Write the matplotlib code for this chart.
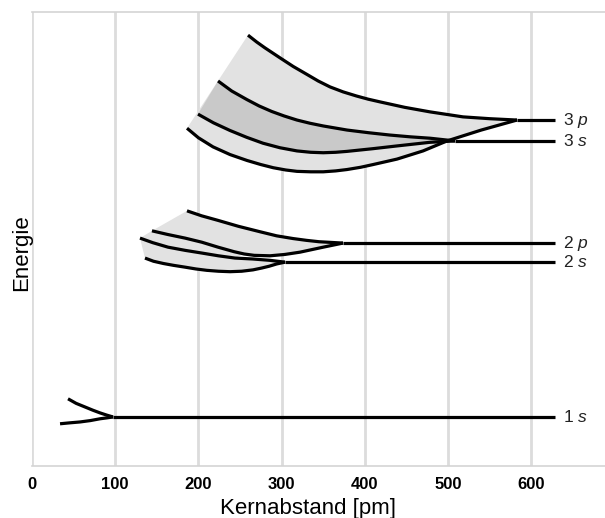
"""Energy levels of H2+ type molecule vs. internuclear distance (Kernabstand)."""
import matplotlib

matplotlib.use("Agg")
import matplotlib.pyplot as plt
import numpy as np

plt.rcParams["font.family"] = ["Liberation Sans", "DejaVu Sans"]
plt.rcParams["mathtext.fontset"] = "custom"
plt.rcParams["mathtext.it"] = "Liberation Sans:italic"
plt.rcParams["mathtext.rm"] = "Liberation Sans"

# level names and energies (arbitrary units, 0 = bottom of plot)
level_names = ["3p", "3s", "2p", "2s", "1s"]
level_energy = [76.2, 71.6, 49.1, 44.9, 10.8]
level_start = [582.9, 508.4, 373.8, 304.1, 97.4]  # pm, where the branches merge
level_end = 629.0

# n = 3 branches
x_3p_up = [259.6, 270.0, 280.0, 298.1, 314.0, 330.0, 344.0, 358.2, 374.0, 390.0, 404.0,
           418.3, 448.0, 478.4, 518.0, 550.0, 582.9]
y_3p_up = [94.9, 93.4, 92.1, 89.9, 88.0, 86.3, 84.8, 83.5, 82.4, 81.5, 80.8,
           80.2, 79.0, 78.0, 76.9, 76.5, 76.2]
x_3p_lo = [186.3, 200.0, 217.5, 238.0, 258.4, 275.0, 290.0, 305.0, 318.5, 335.0, 350.0,
           365.0, 378.6, 395.0, 410.0, 438.7, 470.0, 498.8, 540.0, 582.9]
y_3p_lo = [74.4, 72.3, 70.3, 68.6, 67.3, 66.4, 65.7, 65.2, 64.9, 64.8, 64.8,
           65.0, 65.3, 65.8, 66.4, 67.6, 69.4, 71.6, 74.0, 76.2]
x_3s_up = [223.6, 240.0, 258.4, 273.0, 288.0, 303.0, 318.5, 334.0, 350.0, 378.6, 405.0,
           430.0, 455.0, 478.4, 508.4]
y_3s_up = [84.8, 82.6, 80.7, 79.3, 78.1, 77.1, 76.2, 75.5, 74.9, 74.0, 73.4,
           72.9, 72.5, 72.2, 71.6]
x_3s_lo = [199.5, 218.0, 238.0, 258.0, 277.6, 298.0, 318.5, 335.0, 350.0, 365.0, 378.6,
           410.0, 438.7, 478.4, 508.4]
y_3s_lo = [77.5, 75.6, 73.9, 72.4, 71.1, 70.1, 69.4, 69.1, 69.0, 69.1, 69.3,
           69.9, 70.5, 71.3, 71.6]

# n = 2 branches
x_2p_up = [186.3, 204.0, 223.6, 248.0, 274.0, 294.0, 313.7, 330.0, 345.0, 373.8]
y_2p_up = [56.2, 55.1, 54.1, 52.8, 51.6, 50.7, 50.1, 49.7, 49.4, 49.1]
x_2p_lo = [144.2, 163.0, 183.9, 204.0, 223.6, 243.0, 255.0, 267.0, 286.1, 304.0, 322.1,
           350.0, 373.8]
y_2p_lo = [51.8, 51.0, 50.2, 49.3, 48.2, 47.2, 46.7, 46.4, 46.3, 46.6, 47.1,
           48.2, 49.1]
x_2s_up = [129.8, 145.0, 163.5, 184.0, 204.3, 224.0, 244.0, 265.0, 286.1, 304.1]
y_2s_up = [50.2, 49.2, 48.2, 47.5, 46.9, 46.3, 45.8, 45.6, 45.3, 44.9]
x_2s_lo = [135.8, 146.0, 158.0, 170.0, 183.9, 197.0, 210.0, 224.0, 238.0, 252.0, 265.6,
           276.0, 285.0, 294.0, 304.1]
y_2s_lo = [45.8, 45.1, 44.6, 44.2, 43.8, 43.4, 43.1, 42.9, 42.8, 42.9, 43.2,
           43.6, 44.0, 44.5, 44.9]

# n = 1 branches
x_1s_up = [43.3, 53.0, 63.7, 73.0, 81.7, 90.0, 97.4]
y_1s_up = [14.8, 13.8, 13.0, 12.3, 11.7, 11.2, 10.8]
x_1s_lo = [33.7, 45.0, 57.7, 70.0, 81.7, 90.0, 97.4]
y_1s_lo = [9.3, 9.5, 9.7, 10.0, 10.4, 10.6, 10.8]

x_ticks = [0, 100, 200, 300, 400, 500, 600]

LIGHT = "#e2e2e2"
DARK = "#c9c9c9"
LINE_KW = dict(color="black", linewidth=2.3, solid_capstyle="butt", solid_joinstyle="round")

fig = plt.figure(figsize=(6.05, 5.18), dpi=100)
ax = fig.add_axes([32 / 605, 52 / 518, 573 / 605, 454 / 518])
ax.set_xlim(0, 688.7)
ax.set_ylim(0, 100)

for xt in x_ticks:
    ax.axvline(xt, color="#dcdcdc", linewidth=2.0, zorder=0)


def band(xa, ya, xb, yb, color):
    ax.fill(np.r_[xa, xb[::-1]], np.r_[ya, yb[::-1]], color=color, linewidth=0, zorder=1)


band(x_3p_up, y_3p_up, x_3p_lo, y_3p_lo, LIGHT)
band(x_3s_up, y_3s_up, x_3s_lo, y_3s_lo, DARK)
band(x_2p_up, y_2p_up, x_2p_lo, y_2p_lo, LIGHT)
band(x_2s_up, y_2s_up, x_2s_lo, y_2s_lo, LIGHT)
band(x_2p_lo[:7], y_2p_lo[:7], x_2s_up[:7], y_2s_up[:7], LIGHT)

for xs, ys in [
    (x_3p_up, y_3p_up), (x_3p_lo, y_3p_lo), (x_3s_up, y_3s_up), (x_3s_lo, y_3s_lo),
    (x_2p_up, y_2p_up), (x_2p_lo, y_2p_lo), (x_2s_up, y_2s_up), (x_2s_lo, y_2s_lo),
    (x_1s_up, y_1s_up), (x_1s_lo, y_1s_lo),
]:
    ax.plot(xs, ys, zorder=3, **LINE_KW)

for name, e, x0 in zip(level_names, level_energy, level_start):
    ax.plot([x0, level_end], [e, e], zorder=3, **LINE_KW)
    ax.text(level_end + 9, e, f"{name[0]} $\\mathit{{{name[1]}}}$", fontsize=12.5,
            color="#222222", ha="left", va="center")

ax.set_xticks(x_ticks)
ax.set_xticklabels([str(t) for t in x_ticks], fontsize=12, fontweight="bold")
ax.set_yticks([])
ax.tick_params(axis="x", length=0, pad=8)
for side in ["left", "right"]:
    ax.spines[side].set_visible(False)
for side in ["top", "bottom"]:
    ax.spines[side].set_color("#d4d4d4")
    ax.spines[side].set_linewidth(1.2)

ax.set_xlabel("Kernabstand [pm]", fontsize=16)
ax.xaxis.set_label_coords(0.482, -0.093)
ax.xaxis.label.set_va("center")
ax.set_ylabel("Energie", fontsize=16)
ax.yaxis.set_label_coords(-0.0175, 0.471)
ax.yaxis.label.set_va("center")

fig.savefig("out.png", dpi=100)
